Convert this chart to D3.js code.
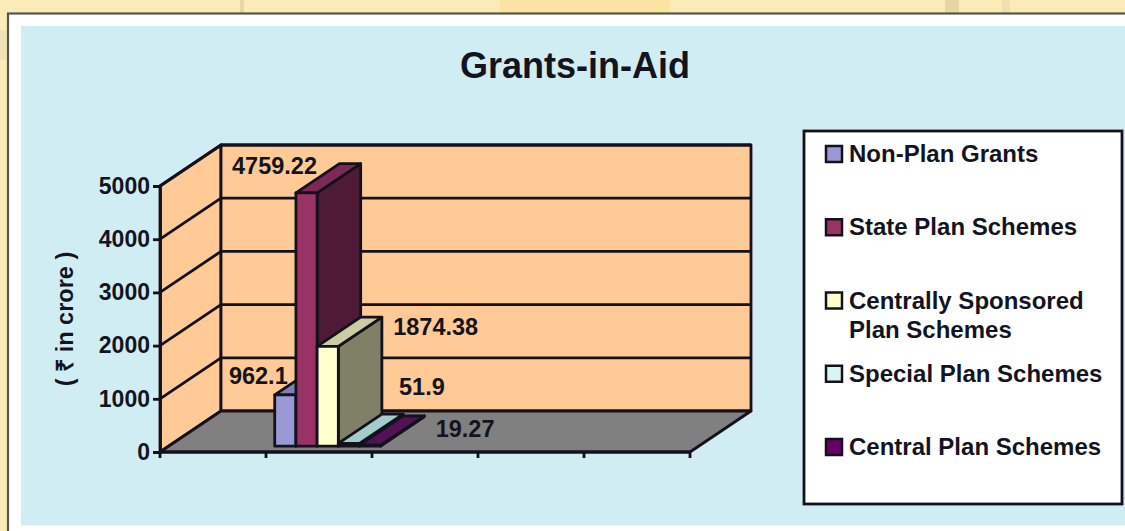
<!DOCTYPE html>
<html><head><meta charset="utf-8">
<script src="https://cdn.jsdelivr.net/npm/d3@7"></script>
<style>html,body{margin:0;padding:0;background:#fbebb6}svg{display:block}text{font-family:"Liberation Sans",Arial,sans-serif;font-weight:bold;fill:#14141e}</style>
</head><body><svg id="c" width="1125" height="531"></svg>
<script>
const title = "Grants-in-Aid";
const axisTitle = "( ₹ in crore )";
const seriesNames = ["Non-Plan Grants","State Plan Schemes","Centrally Sponsored Plan Schemes","Special Plan Schemes","Central Plan Schemes"];
const legendLines = [["Non-Plan Grants"],["State Plan Schemes"],["Centrally Sponsored","Plan Schemes"],["Special Plan Schemes"],["Central Plan Schemes"]];
const seriesValues = [962.1,4759.22,1874.38,51.9,19.27];
const slots = ["a","b","c","d","e"];
const activeSlot = "b";
const yTicks = [0,1000,2000,3000,4000,5000];
const frontColors = ["#9a99d6","#993366","#ffffcc","#ccffff","#660066"];
const topColors = ["#7f7fb4","#7c2a55","#cbcca3","#a3cccc","#541256"];
const sideColors = ["#5a5a80","#4e1a36","#808066","#668080","#330033"];
const legendColors = ["#9a99d6","#993366","#ffffcc","#d9f4f4","#660066"];
const labelOffsets = [[-27,-17],[-32,-25],[108,-18],[73,-55],[95,-14]];

const ink="#14101c";
const svg=d3.select("#c");
// faint page decoration behind the panel
const decor=[[500,0,170,14,"#fde3a2"],[240,0,4,14,"#e6d9a8"],[945,0,14,14,"#e6d6a4"],[1002,0,8,14,"#ece0b4"],[0,30,6,30,"#efe2b6"]];
svg.selectAll("rect.decor").data(decor).join("rect").attr("class","decor")
  .attr("x",d=>d[0]).attr("y",d=>d[1]).attr("width",d=>d[2]).attr("height",d=>d[3]).attr("fill",d=>d[4]);
svg.append("rect").attr("x",8).attr("y",13.5).attr("width",1125).attr("height",530).attr("fill","#fff").attr("stroke","#55554a").attr("stroke-width",2.2);
svg.append("rect").attr("x",21).attr("y",26).attr("width",1104).attr("height",499.5).attr("fill","#d0edf4");

svg.append("text").attr("x",575).attr("y",78).attr("text-anchor","middle").attr("font-size",36).text(title);

const x=d3.scaleBand().domain(slots).range([160,690]);
const y=d3.scaleLinear().domain([0,5000]).range([452,186]);
const backX=61, backY=-41;       // wall depth
const nearFrac=0.143, farFrac=0.857; // bar span in depth
const poly=pts=>pts.map(p=>p.join(",")).join(" ");
const wallStyle=s=>s.attr("stroke",ink).attr("stroke-width",2.8).attr("stroke-linejoin","round");

// walls and floor
const x0=x.range()[0], x1=x.range()[1], y0=y(0), yT=y(5000);
svg.append("polygon").attr("points",poly([[x0,y0],[x0,yT],[x0+backX,yT+backY],[x0+backX,y0+backY]])).attr("fill","#ffca96").call(wallStyle);
svg.append("polygon").attr("points",poly([[x0+backX,y0+backY],[x0+backX,yT+backY],[x1+backX,yT+backY],[x1+backX,y0+backY]])).attr("fill","#ffca96").call(wallStyle);
svg.append("polygon").attr("points",poly([[x0,y0],[x0+backX,y0+backY],[x1+backX,y0+backY],[x1,y0]])).attr("fill","#808080").call(wallStyle);
svg.selectAll("path.grid").data(yTicks.slice(1)).join("path").attr("class","grid")
  .attr("fill","none").attr("stroke",ink).attr("stroke-width",2.8)
  .attr("d",v=>`M${x0},${y(v)}L${x0+backX},${y(v)+backY}L${x1+backX},${y(v)+backY}`);

// axes
const axL=svg.append("g").attr("transform",`translate(${x0},0)`).call(d3.axisLeft(y).tickValues(yTicks).tickSize(7).tickPadding(3).tickFormat(d3.format("d")));
axL.select(".domain").attr("stroke",ink).attr("stroke-width",2.8);
axL.selectAll("line").attr("stroke",ink).attr("stroke-width",2.8);
axL.selectAll("text").attr("font-size",23).attr("font-family",'"Liberation Sans",Arial,sans-serif').attr("font-weight","bold").attr("fill","#14141e");
const edges=[x0,...slots.map(s=>x(s)+x.bandwidth())];
const axB=svg.append("g");
axB.append("line").attr("x1",x0).attr("x2",x1).attr("y1",y0).attr("y2",y0).attr("stroke",ink).attr("stroke-width",2.8);
axB.selectAll("line.t").data(edges).join("line").attr("class","t").attr("x1",d=>d).attr("x2",d=>d).attr("y1",y0).attr("y2",y0+6).attr("stroke",ink).attr("stroke-width",2.8);

svg.append("text").attr("transform","translate(73,319) rotate(-90)").attr("text-anchor","middle").attr("font-size",23.5).text(axisTitle);

// bars
const inner=d3.scaleBand().domain(d3.range(seriesValues.length)).range([x(activeSlot),x(activeSlot)+x.bandwidth()]);
const bars=svg.selectAll("g.bar").data(seriesValues).join("g").attr("class","bar");
bars.each(function(v,i){
  const g=d3.select(this);
  const dnX=backX*nearFrac, dnY=backY*nearFrac, dfX=backX*farFrac, dfY=backY*farFrac;
  const l=inner(i)+dnX, r=inner(i)+inner.bandwidth()+dnX, b=y(0)+dnY, t=y(v)+dnY;
  const ox=dfX-dnX, oy=dfY-dnY;
  g.append("polygon").attr("points",poly([[r,b],[r,t],[r+ox,t+oy],[r+ox,b+oy]])).attr("fill",sideColors[i]).call(wallStyle);
  g.append("polygon").attr("points",poly([[l,t],[l+ox,t+oy],[r+ox,t+oy],[r,t]])).attr("fill",topColors[i]).call(wallStyle);
  g.append("rect").attr("x",l).attr("y",t).attr("width",r-l).attr("height",b-t).attr("fill",frontColors[i]).call(wallStyle);
});
// value labels
svg.selectAll("text.val").data(seriesValues).join("text").attr("class","val")
  .attr("font-size",23.5)
  .attr("x",(v,i)=>inner(i)+inner.bandwidth()/2+backX*nearFrac+labelOffsets[i][0])
  .attr("y",(v,i)=>y(v)+backY*nearFrac+labelOffsets[i][1])
  .attr("text-anchor","middle").attr("dominant-baseline","middle").text(v=>v);

// legend
svg.append("rect").attr("x",804).attr("y",131).attr("width",318).attr("height",373).attr("fill","#fff").attr("stroke",ink).attr("stroke-width",2.8);
const legendY=d3.scalePoint().domain(seriesNames).range([154,447]);
const lg=svg.selectAll("g.lg").data(seriesNames).join("g").attr("class","lg").attr("transform",d=>`translate(826,${legendY(d)})`);
lg.append("rect").attr("x",0).attr("y",-8).attr("width",16).attr("height",16).attr("fill",(d,i)=>legendColors[i]).attr("stroke",ink).attr("stroke-width",2.5);
lg.append("text").attr("font-size",24).selectAll("tspan").data((d,i)=>legendLines[i]).join("tspan")
  .attr("x",23).attr("y",(d,i)=>8+i*29).text(d=>d);
</script></body></html>
